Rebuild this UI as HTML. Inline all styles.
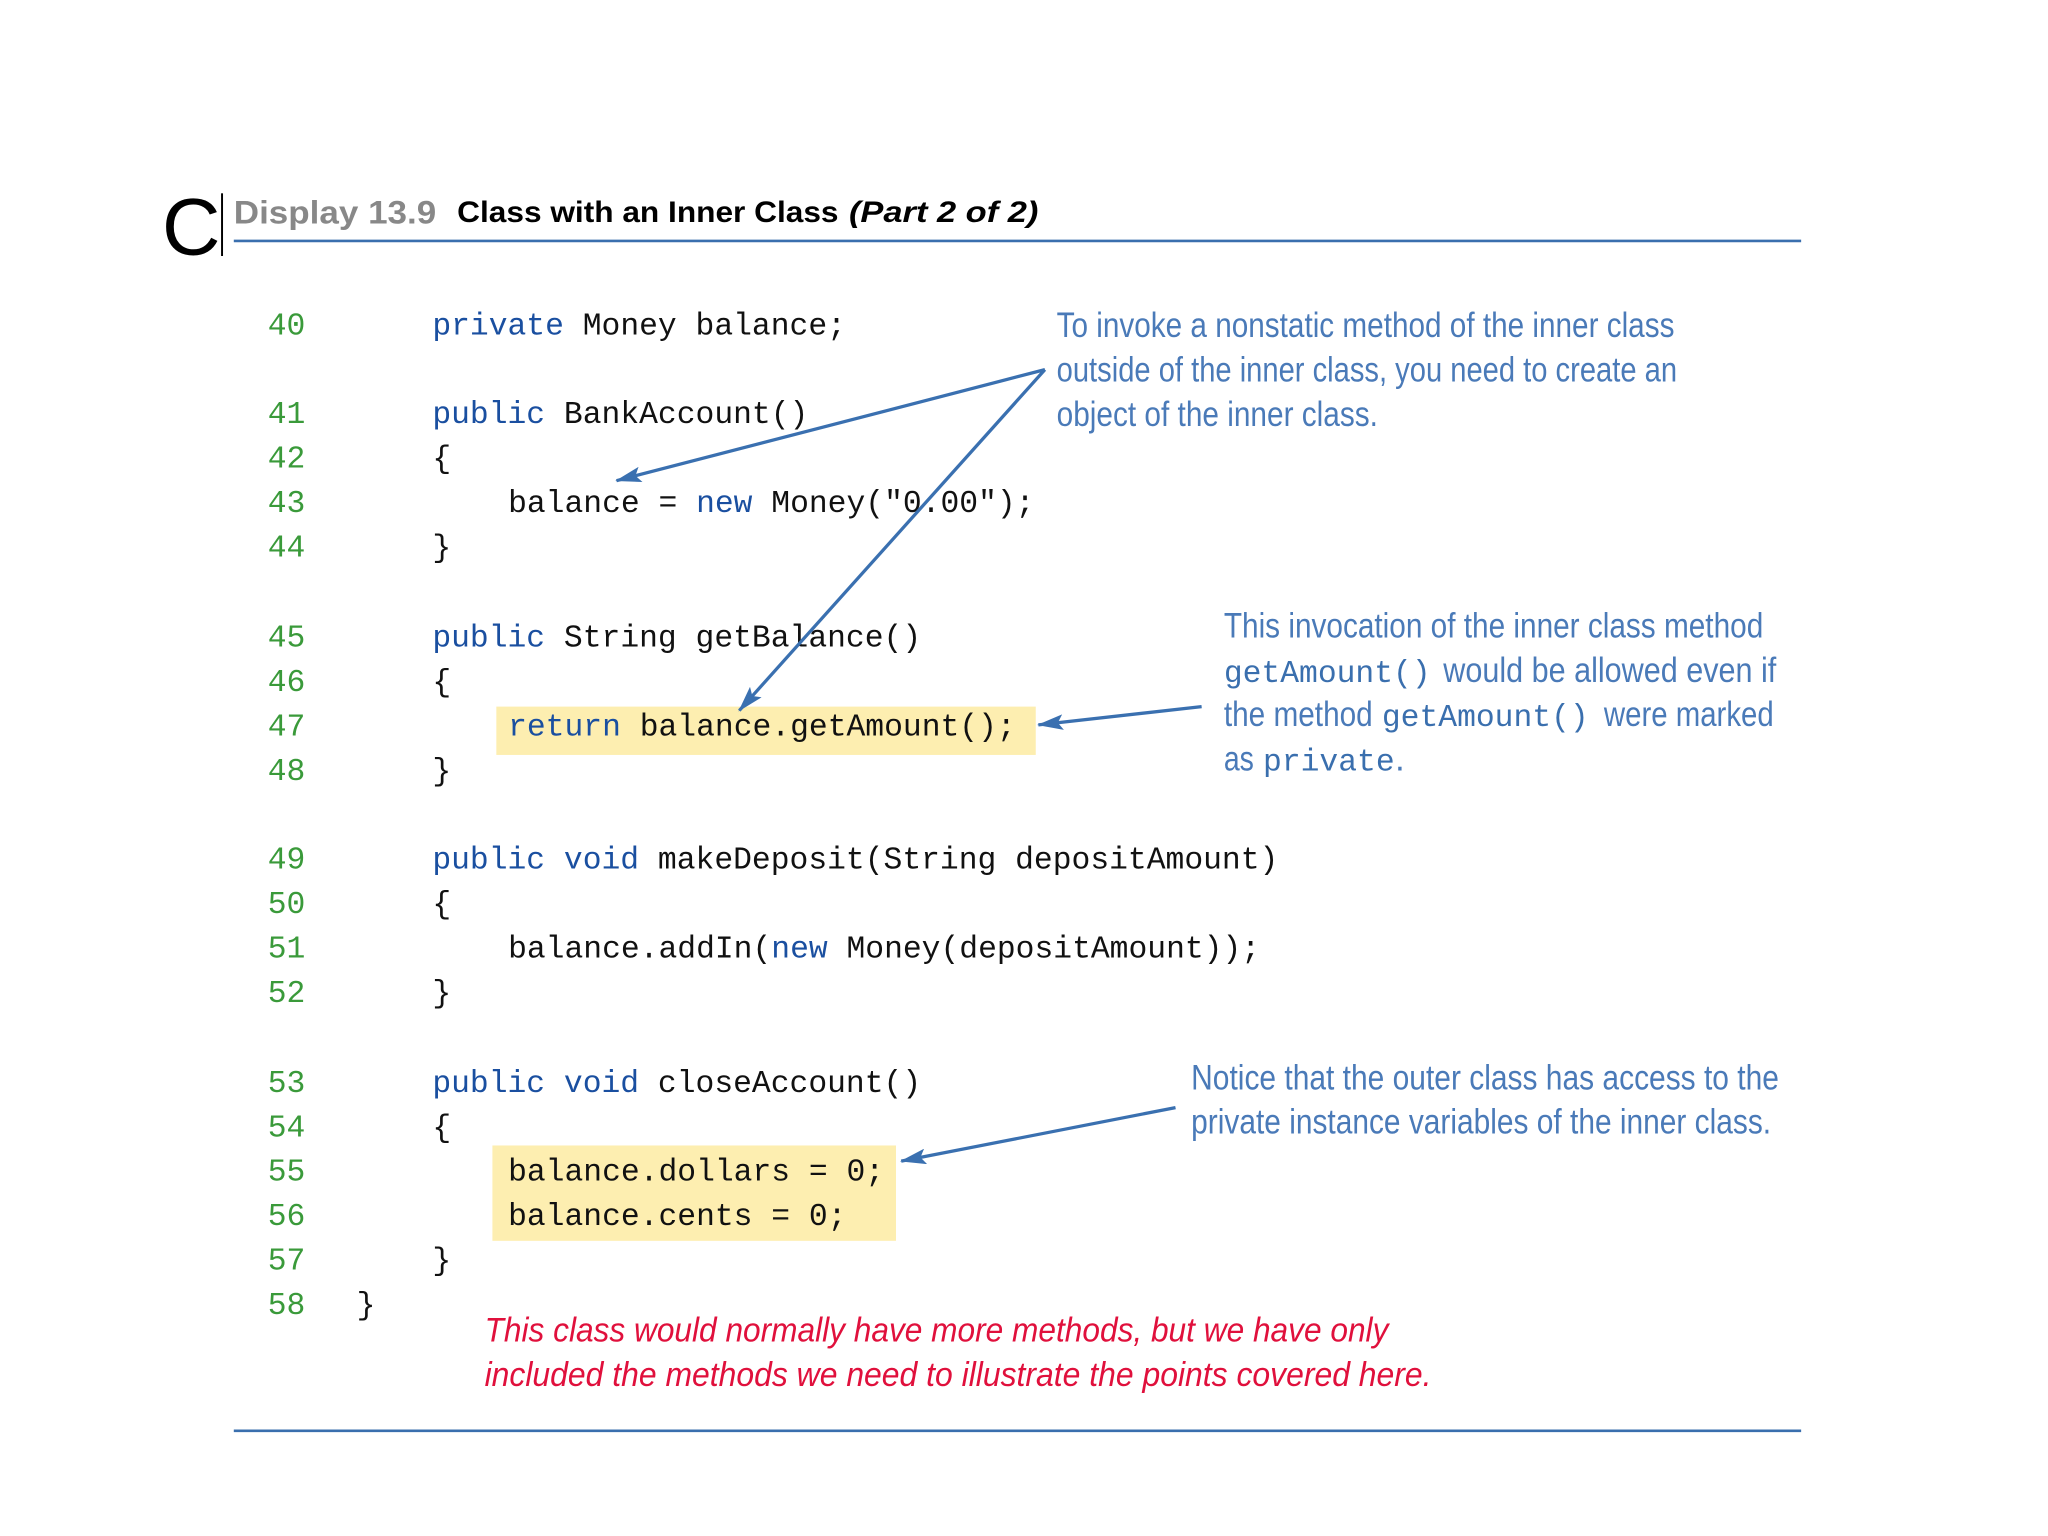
<!DOCTYPE html>
<html><head><meta charset="utf-8"><style>html,body{margin:0;padding:0;background:#fff}svg{display:block}</style></head>
<body>
<svg width="2048" height="1536" viewBox="0 0 1568 1176" xmlns="http://www.w3.org/2000/svg">
<rect width="1568" height="1176" fill="#fff"/>
<!-- header -->
<text x="124" y="195" font-family="Liberation Sans, sans-serif" font-size="62" fill="#000">C</text>
<line x1="170" y1="148" x2="170" y2="196" stroke="#000" stroke-width="1.5"/>
<text x="179" y="171" font-family="Liberation Sans, sans-serif" font-weight="bold" font-size="25" fill="#888" textLength="155" lengthAdjust="spacingAndGlyphs">Display 13.9</text>
<text x="350" y="170" font-family="Liberation Sans, sans-serif" font-weight="bold" font-size="23" fill="#000" textLength="292" lengthAdjust="spacingAndGlyphs">Class with an Inner Class</text>
<text x="650" y="170" font-family="Liberation Sans, sans-serif" font-weight="bold" font-style="italic" font-size="23" fill="#000" textLength="145" lengthAdjust="spacingAndGlyphs">(Part 2 of 2)</text>
<line x1="179" y1="184.5" x2="1379" y2="184.5" stroke="#3a6fae" stroke-width="2"/>
<line x1="179" y1="1095.5" x2="1379" y2="1095.5" stroke="#3a6fae" stroke-width="2"/>
<!-- highlights -->
<rect x="380" y="541" width="413" height="37" fill="#fdeeb0"/>
<rect x="377" y="877" width="309" height="73" fill="#fdeeb0"/>
<!-- line numbers -->
<g font-family="Liberation Mono, monospace" font-size="24" fill="#3a9a3a">
<text x="205" y="256">40</text><text x="205" y="324">41</text><text x="205" y="358">42</text><text x="205" y="392">43</text><text x="205" y="426">44</text>
<text x="205" y="495">45</text><text x="205" y="529">46</text><text x="205" y="563">47</text><text x="205" y="597">48</text>
<text x="205" y="665">49</text><text x="205" y="699">50</text><text x="205" y="733">51</text><text x="205" y="767">52</text>
<text x="205" y="836">53</text><text x="205" y="870">54</text><text x="205" y="904">55</text><text x="205" y="938">56</text><text x="205" y="972">57</text><text x="205" y="1006">58</text>
</g>
<!-- code -->
<g font-family="Liberation Mono, monospace" font-size="24" fill="#111" xml:space="preserve">
<text x="331" y="256"><tspan fill="#1a4fa0">private</tspan> Money balance;</text>
<text x="331" y="324"><tspan fill="#1a4fa0">public</tspan> BankAccount()</text>
<text x="331" y="358">{</text>
<text x="389" y="392">balance = <tspan fill="#1a4fa0">new</tspan> Money("0.00");</text>
<text x="331" y="426">}</text>
<text x="331" y="495"><tspan fill="#1a4fa0">public</tspan> String getBalance()</text>
<text x="331" y="529">{</text>
<text x="389" y="563"><tspan fill="#1a4fa0">return</tspan> balance.getAmount();</text>
<text x="331" y="597">}</text>
<text x="331" y="665"><tspan fill="#1a4fa0">public void</tspan> makeDeposit(String depositAmount)</text>
<text x="331" y="699">{</text>
<text x="389" y="733">balance.addIn(<tspan fill="#1a4fa0">new</tspan> Money(depositAmount));</text>
<text x="331" y="767">}</text>
<text x="331" y="836"><tspan fill="#1a4fa0">public void</tspan> closeAccount()</text>
<text x="331" y="870">{</text>
<text x="389" y="904">balance.dollars = 0;</text>
<text x="389" y="938">balance.cents = 0;</text>
<text x="331" y="972">}</text>
<text x="273" y="1006">}</text>
</g>
<!-- annotations -->
<g font-family="Liberation Sans, sans-serif" font-size="27" fill="#4a7ab8">
<text x="809" y="258" textLength="473" lengthAdjust="spacingAndGlyphs">To invoke a nonstatic method of the inner class</text>
<text x="809" y="292" textLength="475" lengthAdjust="spacingAndGlyphs">outside of the inner class, you need to create an</text>
<text x="809" y="326" textLength="246" lengthAdjust="spacingAndGlyphs">object of the inner class.</text>
<text x="937" y="488" textLength="413" lengthAdjust="spacingAndGlyphs">This invocation of the inner class method</text>
<text x="1105" y="522" textLength="255" lengthAdjust="spacingAndGlyphs">would be allowed even if</text>
<text x="937" y="556" textLength="114" lengthAdjust="spacingAndGlyphs">the method</text>
<text x="1228" y="556" textLength="130" lengthAdjust="spacingAndGlyphs">were marked</text>
<text x="937" y="590" textLength="23" lengthAdjust="spacingAndGlyphs">as</text>
<text x="1068" y="590">.</text>
<text x="912" y="834" textLength="450" lengthAdjust="spacingAndGlyphs">Notice that the outer class has access to the</text>
<text x="912" y="868" textLength="444" lengthAdjust="spacingAndGlyphs">private instance variables of the inner class.</text>
</g>
<g font-family="Liberation Mono, monospace" font-size="24" fill="#3a6fae">
<text x="937" y="522">getAmount()</text>
<text x="1058" y="556">getAmount()</text>
<text x="967" y="590">private</text>
</g>
<g font-family="Liberation Sans, sans-serif" font-style="italic" font-size="26" fill="#e0103c">
<text x="371" y="1027" textLength="692" lengthAdjust="spacingAndGlyphs">This class would normally have more methods, but we have only</text>
<text x="371" y="1061" textLength="725" lengthAdjust="spacingAndGlyphs">included the methods we need to illustrate the points covered here.</text>
</g>
<!-- arrows -->
<defs><marker id="ah" markerWidth="10" markerHeight="8" refX="9" refY="4" orient="auto" markerUnits="userSpaceOnUse"><path d="M0,0 L28,4 L0,8 Z" transform="scale(0.36,1)" fill="#3a70b0"/></marker>
<marker id="a2" markerWidth="20" markerHeight="12" refX="19" refY="6" orient="auto" markerUnits="userSpaceOnUse"><path d="M0,0 L20,6 L0,12 L4,6 Z" fill="#3a70b0"/></marker></defs>
<g stroke="#3a70b0" stroke-width="2.5" fill="none">
<line x1="800" y1="283" x2="472" y2="368" marker-end="url(#a2)"/>
<line x1="800" y1="283" x2="566" y2="544" marker-end="url(#a2)"/>
<line x1="920" y1="541" x2="795" y2="555" marker-end="url(#a2)"/>
<line x1="900" y1="848" x2="690" y2="889" marker-end="url(#a2)"/>
</g>
</svg>
</body></html>
